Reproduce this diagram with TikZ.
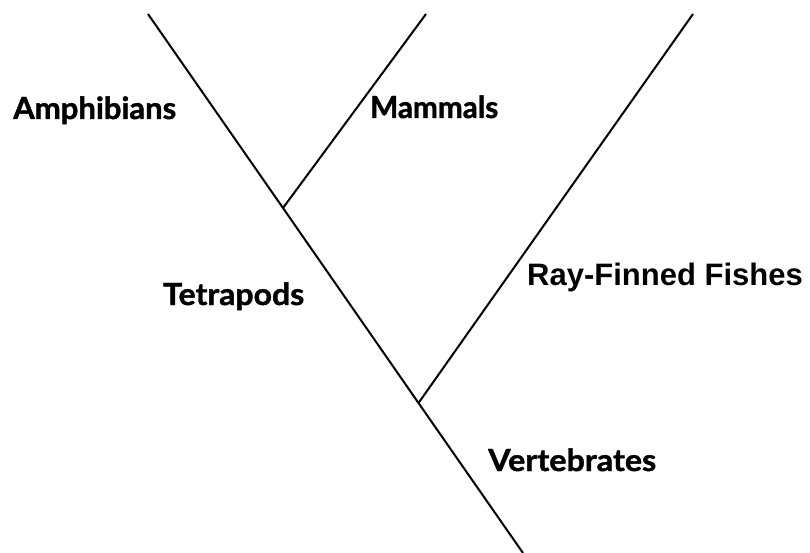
\documentclass[tikz,border=0pt]{standalone}
\usepackage{fontspec}
\setmainfont{Lato}
\newfontfamily\gillbold{Lato}[UprightFont={* Bold}, FakeBold=1.3]
\newfontfamily\arialbold{Liberation Sans}[UprightFont={* Bold}]
\begin{document}
\begin{tikzpicture}[x=1pt,y=-1pt,
  branch/.style={line width=2pt, draw=black},
  gill/.style={anchor=base west, inner sep=0pt, font=\fontsize{30.5}{30.5}\selectfont\gillbold},
  arl/.style={anchor=base west, inner sep=0pt, font=\fontsize{31}{31}\selectfont\arialbold}]
\useasboundingbox (0,0) rectangle (810,553);
\coordinate (tA) at (148,14);
\coordinate (tM) at (426,14);
\coordinate (tF) at (693,14);
\coordinate (j1) at (283,208);
\coordinate (j2) at (418.5,403);
\coordinate (bot) at (523,553);
\draw[branch] (tA) -- (j1) -- (j2) -- (bot);
\draw[branch] (j1) -- (tM);
\draw[branch] (j2) -- (tF);
\node[gill] (amph) at (13,119) {\resizebox{163pt}{\height}{Amphibians}};
\node[gill] (mamm) at (370,118) {\resizebox{128pt}{\height}{Mammals}};
\node[gill] (tetr) at (163,305) {\resizebox{141pt}{\height}{Tetrapods}};
\node[gill] (vert) at (488,471) {\resizebox{168pt}{\height}{Vertebrates}};
\node[arl] (ray) at (527,285) {Ray-Finned Fishes};
\end{tikzpicture}
\end{document}
